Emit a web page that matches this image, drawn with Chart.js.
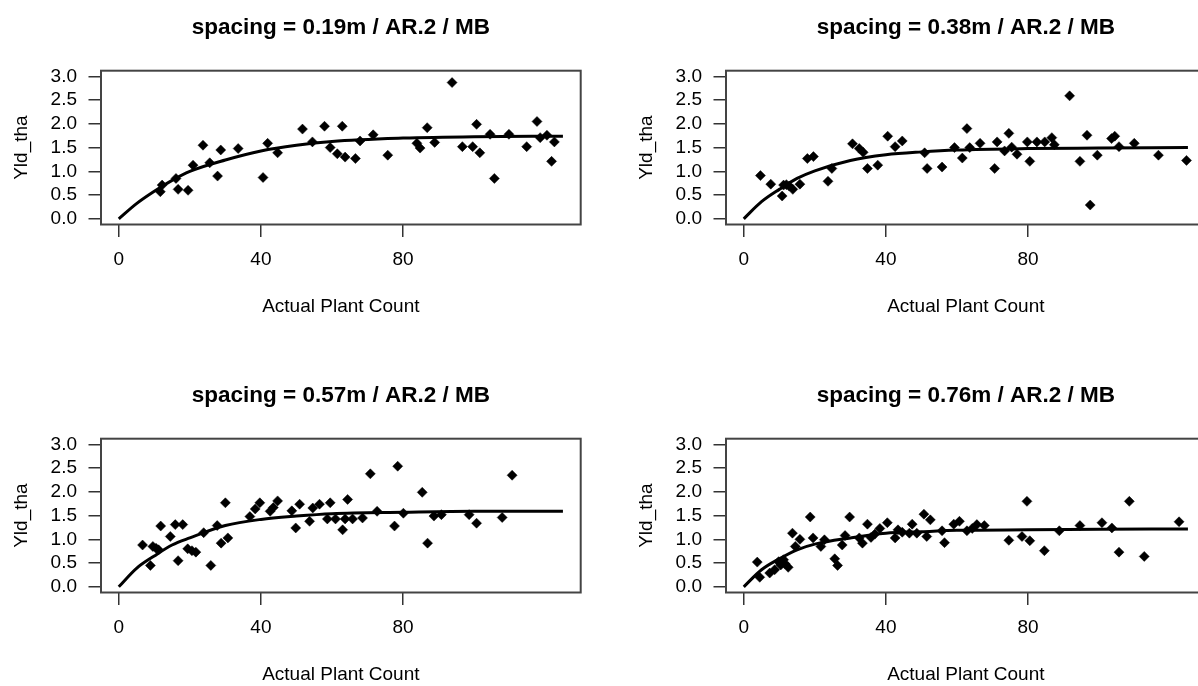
<!DOCTYPE html>
<html>
<head>
<meta charset="utf-8">
<title>Yld_tha vs Actual Plant Count</title>
<script src="https://cdn.jsdelivr.net/npm/chart.js@4.4.1/dist/chart.umd.min.js"></script>
<style>
  body { margin: 0; background: #fff; }
  #wrap { position: relative; width: 1198px; height: 686px; overflow: hidden; }
  #wrap canvas { position: absolute; }
</style>
</head>
<body>
<div id="wrap">
  <canvas id="c1" width="625" height="368" style="left:0;top:0"></canvas>
  <canvas id="c2" width="625" height="368" style="left:625px;top:0"></canvas>
  <canvas id="c3" width="625" height="368" style="left:0;top:368px"></canvas>
  <canvas id="c4" width="625" height="368" style="left:625px;top:368px"></canvas>
</div>
<script>
const xTicks = [0, 40, 80];
const yTicks = [0, 0.5, 1, 1.5, 2, 2.5, 3];

// fitted curve at these plant counts
const fitCount = [0, 5, 10, 15, 20, 30, 40, 50, 60, 80, 100, 125];

// spacing = 0.19m
const count19 = [11.7, 12.2, 16.1, 16.7, 19.5, 20.9, 23.7, 25.6, 27.8, 28.7, 33.6, 40.6, 41.9, 44.7, 51.7, 54.5, 57.9, 59.5, 61.5, 62.9, 63.7, 66.6, 67.9, 71.6, 75.7, 83.9, 84.8, 86.8, 88.9, 93.8, 96.7, 99.6, 100.7, 101.6, 104.5, 105.7, 109.8, 114.8, 117.7, 118.6, 120.5, 121.8, 122.6];
const yield19 = [0.57, 0.71, 0.85, 0.62, 0.60, 1.13, 1.55, 1.18, 0.90, 1.45, 1.48, 0.87, 1.59, 1.39, 1.89, 1.62, 1.95, 1.50, 1.37, 1.95, 1.30, 1.27, 1.64, 1.77, 1.34, 1.59, 1.49, 1.92, 1.61, 2.87, 1.52, 1.52, 1.99, 1.39, 1.78, 0.85, 1.78, 1.52, 2.05, 1.71, 1.76, 1.21, 1.62];
const fit19 = [0, 0.32, 0.58, 0.81, 1.00, 1.24, 1.43, 1.55, 1.63, 1.70, 1.73, 1.74];

// spacing = 0.38m
const count38 = [4.7, 7.6, 10.8, 11.2, 12.0, 12.8, 13.8, 15.8, 17.9, 19.6, 23.7, 24.8, 30.6, 32.5, 33.6, 34.8, 37.7, 40.5, 42.6, 44.6, 50.9, 51.6, 55.8, 59.3, 61.5, 62.8, 63.6, 66.5, 70.6, 71.3, 73.4, 74.6, 75.4, 76.9, 79.8, 80.5, 82.5, 84.7, 86.7, 87.4, 91.7, 94.6, 96.6, 97.5, 99.5, 103.5, 104.4, 105.6, 109.9, 116.7, 124.6];
const yield38 = [0.91, 0.73, 0.48, 0.71, 0.72, 0.69, 0.62, 0.73, 1.27, 1.31, 0.79, 1.06, 1.58, 1.48, 1.40, 1.06, 1.13, 1.74, 1.52, 1.64, 1.39, 1.06, 1.09, 1.50, 1.28, 1.90, 1.50, 1.59, 1.06, 1.62, 1.43, 1.80, 1.51, 1.36, 1.62, 1.21, 1.62, 1.62, 1.71, 1.56, 2.59, 1.21, 1.76, 0.29, 1.34, 1.69, 1.74, 1.52, 1.59, 1.34, 1.23];
const fit38 = [0, 0.36, 0.62, 0.85, 1.01, 1.23, 1.35, 1.41, 1.45, 1.48, 1.49, 1.50];

// spacing = 0.57m
const count57 = [6.7, 8.9, 9.6, 10.5, 11.2, 11.8, 14.5, 15.9, 16.7, 18.0, 19.4, 20.6, 21.7, 23.9, 25.9, 27.7, 28.8, 30.0, 30.7, 36.9, 38.4, 39.7, 42.6, 43.5, 44.7, 48.7, 49.8, 50.9, 53.7, 54.6, 56.5, 58.7, 59.5, 61.0, 63.0, 63.7, 64.4, 65.8, 68.6, 70.8, 72.7, 77.6, 78.5, 80.1, 85.4, 86.9, 88.7, 90.8, 98.6, 100.7, 107.9, 110.7];
const yield57 = [0.88, 0.45, 0.85, 0.81, 0.78, 1.28, 1.06, 1.31, 0.55, 1.31, 0.80, 0.76, 0.73, 1.14, 0.45, 1.29, 0.92, 1.77, 1.03, 1.48, 1.64, 1.77, 1.59, 1.67, 1.81, 1.60, 1.24, 1.74, 1.38, 1.66, 1.74, 1.43, 1.77, 1.43, 1.20, 1.43, 1.84, 1.43, 1.45, 2.38, 1.59, 1.28, 2.54, 1.55, 1.99, 0.92, 1.49, 1.52, 1.52, 1.34, 1.46, 2.35];
const fit57 = [0, 0.39, 0.65, 0.88, 1.03, 1.29, 1.42, 1.49, 1.54, 1.57, 1.59, 1.59];

// spacing = 0.76m
const count76 = [3.8, 4.5, 7.3, 8.7, 9.8, 10.4, 11.2, 11.7, 12.5, 13.7, 14.5, 15.8, 18.7, 19.5, 21.7, 22.7, 25.6, 26.4, 27.7, 28.5, 29.8, 32.5, 33.4, 34.8, 35.8, 36.9, 38.3, 40.4, 42.6, 43.4, 44.6, 46.6, 47.4, 48.7, 50.7, 51.5, 52.5, 55.8, 56.5, 59.1, 60.7, 62.8, 64.3, 65.6, 67.7, 74.6, 78.3, 79.7, 80.5, 84.6, 88.8, 94.6, 100.8, 103.6, 105.6, 108.5, 112.7, 122.5];
const yield76 = [0.52, 0.20, 0.29, 0.36, 0.53, 0.46, 0.57, 0.48, 0.41, 1.13, 0.85, 1.00, 1.47, 1.03, 0.85, 0.99, 0.59, 0.45, 0.88, 1.08, 1.47, 1.03, 0.92, 1.32, 1.04, 1.11, 1.23, 1.35, 1.03, 1.20, 1.15, 1.13, 1.32, 1.13, 1.53, 1.06, 1.41, 1.18, 0.93, 1.32, 1.38, 1.18, 1.23, 1.31, 1.29, 0.98, 1.06, 1.80, 0.97, 0.76, 1.18, 1.29, 1.35, 1.24, 0.73, 1.80, 0.64, 1.37];
const fit76 = [0, 0.36, 0.59, 0.78, 0.90, 1.03, 1.13, 1.16, 1.19, 1.20, 1.21, 1.22];

const FONT = "'Liberation Sans', Arial, sans-serif";

// box around the plot region, like R's box()
const frame = {
    id: 'frame',
    afterDatasetsDraw(chart) {
        const { ctx, chartArea: a } = chart;
        ctx.save();
        ctx.strokeStyle = '#444';
        ctx.lineWidth = 2;
        ctx.strokeRect(a.left, a.top, a.right - a.left, a.bottom - a.top);
        ctx.restore();
    }
};

function toPoints(xs, ys) {
    return xs.map((x, i) => ({ x: x, y: ys[i] }));
}

function makePanel(id, spacing, counts, yields, fit) {
    const ctx = document.getElementById(id).getContext('2d');
    new Chart(ctx, {
        type: 'scatter',
        data: {
            datasets: [{
                data: toPoints(counts, yields),
                pointStyle: 'rectRot',
                pointRadius: 5,
                backgroundColor: '#000',
                borderColor: '#000',
                borderWidth: 0.5
            }, {
                data: toPoints(fitCount, fit),
                showLine: true,
                pointRadius: 0,
                borderColor: '#000',
                borderWidth: 3,
                cubicInterpolationMode: 'monotone'
            }]
        },
        options: {
            responsive: false,
            animation: false,
            events: [],
            layout: { padding: { left: 0, right: 44.3, top: 0, bottom: 0 } },
            plugins: {
                legend: { display: false },
                tooltip: { enabled: false },
                title: {
                    display: true,
                    fullSize: false,
                    text: 'spacing = ' + spacing + ' / AR.2 / MB',
                    color: '#000',
                    font: { family: FONT, size: 22.5, weight: 'bold' },
                    padding: { top: 14, bottom: 29.7 }
                }
            },
            scales: {
                x: {
                    type: 'linear',
                    min: -5,
                    max: 130,
                    afterBuildTicks: s => { s.ticks = xTicks.map(v => ({ value: v })); },
                    afterFit: s => { s.height = 143.5; },
                    grid: { drawOnChartArea: false, drawTicks: true, tickLength: 12.5, color: '#333', lineWidth: 1.5 },
                    border: { display: false },
                    ticks: { color: '#000', font: { family: FONT, size: 19 }, padding: 11, maxRotation: 0, autoSkip: false },
                    title: {
                        display: true,
                        text: 'Actual Plant Count',
                        color: '#000',
                        font: { family: FONT, size: 19 },
                        padding: { top: 0, bottom: 50 }
                    }
                },
                y: {
                    min: -0.12,
                    max: 3.12,
                    afterBuildTicks: s => { s.ticks = yTicks.map(v => ({ value: v })); },
                    afterFit: s => { s.width = 101; },
                    grid: { drawOnChartArea: false, drawTicks: true, tickLength: 12.5, color: '#333', lineWidth: 1.5 },
                    border: { display: false },
                    ticks: {
                        color: '#000',
                        font: { family: FONT, size: 19 },
                        padding: 11.5,
                        autoSkip: false,
                        callback: v => Number(v).toFixed(1)
                    },
                    title: {
                        display: true,
                        text: 'Yld_tha',
                        color: '#000',
                        font: { family: FONT, size: 19 },
                        padding: { top: 10, bottom: 0 }
                    }
                }
            }
        },
        plugins: [frame]
    });
}

makePanel('c1', '0.19m', count19, yield19, fit19);
makePanel('c2', '0.38m', count38, yield38, fit38);
makePanel('c3', '0.57m', count57, yield57, fit57);
makePanel('c4', '0.76m', count76, yield76, fit76);
</script>
</body>
</html>
